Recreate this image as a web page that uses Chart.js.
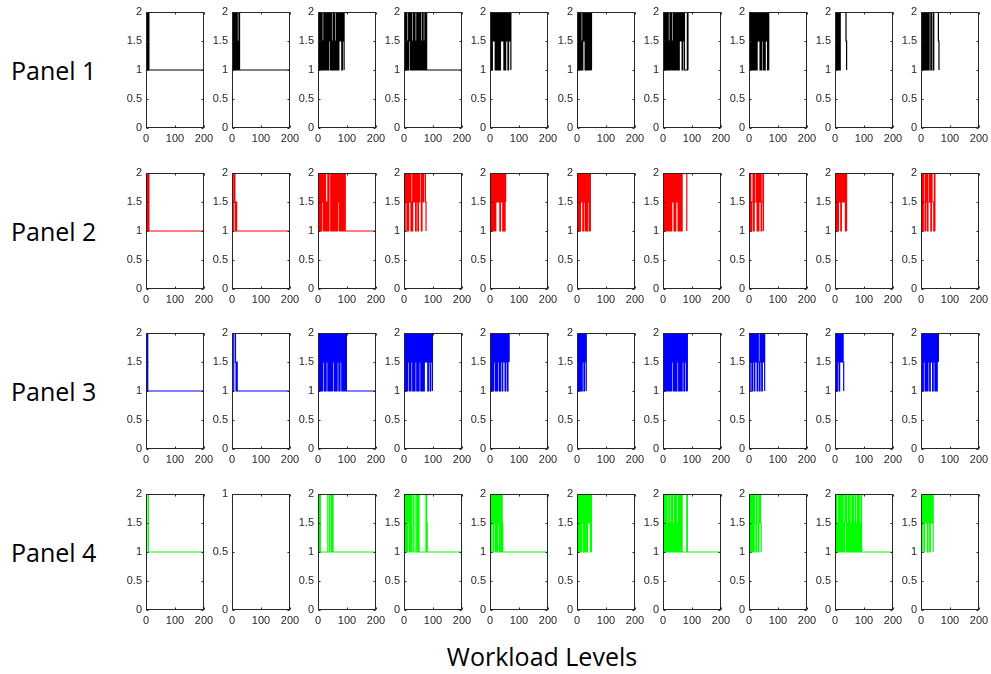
<!DOCTYPE html>
<html><head><meta charset="utf-8">
<script src="https://cdn.jsdelivr.net/npm/chart.js@4.4.0/dist/chart.umd.min.js"></script>
<style>
html,body{margin:0;padding:0;background:#fff;width:991px;height:674px;overflow:hidden;position:relative;font-family:"Open Sans",sans-serif}
canvas{position:absolute}
.rowlab{position:absolute;left:11px;font-size:25px;line-height:25px;color:#000;white-space:nowrap}
#title{position:absolute;left:342px;width:400px;text-align:center;top:644px;font-size:25px;line-height:25px;color:#000}
</style></head><body>
<div id="title">Workload Levels</div>
<script>
// ---- data ----
const rowLabels = ["Panel 1", "Panel 2", "Panel 3", "Panel 4"];
const xMin = 0, xMax = 200, xTickStep = 100;
const yTickStep = 0.5;
const sampleStep = 2;            // x spacing between successive readings
const levelCode = { "1": 1, "5": 1.5, "2": 2 };

const panel1Levels = [
  "212121",
  "21212121215121",
  "2121212151212121212521215121215121212525212521",
  "2121215125212151212151212121215121512121",
  "2121252521212121215252521215252152521",
  "21212121512525121521212121",
  "21212121215121215121212121212525212521111121",
  "21212121212121225221212521215252121",
  "212121221222222222251",
  "21212121221221222122212222222251"
];
const panel2Levels = [
  "212121",
  "111225151",
  "212121252121211512122212121221212125215212122121",
  "212521215252151225251252125222125522251",
  "2121212121252525215252152125",
  "212121252512521251252121",
  "212121212121521525212152521521521222222221",
  "21251552125552121255215521",
  "212121255212525252121",
  "2121255125215525212555121"
];
const panel3Levels = [
  "2121",
  "1112225151",
  "21212121252121252121121212521212125211252122122121",
  "21212125212125211212521211252121211252522125212521",
  "2121212521121252112521255212521225",
  "21212152125212521",
  "2121212112121212521211212521121212521252121",
  "2125212521252512551252122521",
  "2121252125255251",
  "2121252121212521252512521251225"
];
const panel4Levels = [
  "12221",
  "",
  "112211111111111112221112121",
  "21212125212121112221112212111111111111251",
  "21252125212212521221251",
  "21212121252121212125252121",
  "2121212151215121215121215121212121111111121",
  "2121212512551255125251",
  "21215121221212151252151212151212151215121215121",
  "2125212525212521252521"
];
// does the series continue flat at level 1 up to x = 200?
const panel1Tail = [1,1,0,1,0,0,0,0,0,0];
const panel2Tail = [1,1,1,0,0,0,0,0,0,0];
const panel3Tail = [1,1,1,0,0,0,0,0,0,0];
const panel4Tail = [1,0,1,1,1,0,1,0,1,0];
const panel1YMax = [2,2,2,2,2,2,2,2,2,2];
const panel2YMax = [2,2,2,2,2,2,2,2,2,2];
const panel3YMax = [2,2,2,2,2,2,2,2,2,2];
const panel4YMax = [2,1,2,2,2,2,2,2,2,2];

// ---- style / layout ----
const rowColors = ["#000000", "#ff0000", "#0000ff", "#00ff00"];
const axisColor = "#262626";
const boxLeft0 = 146, colPitch = 86.1, boxTop0 = 12, rowPitch = 160.6;
const boxW = 58, boxH = 116;
const padL = 32, padR = 12, padT = 6, padB = 18;

const rows = [
  { levels: panel1Levels, tail: panel1Tail, ymax: panel1YMax },
  { levels: panel2Levels, tail: panel2Tail, ymax: panel2YMax },
  { levels: panel3Levels, tail: panel3Tail, ymax: panel3YMax },
  { levels: panel4Levels, tail: panel4Tail, ymax: panel4YMax }
];

const boxPlugin = {
  id: "matlabBox",
  afterDatasetsDraw(chart) {
    const { ctx, chartArea: a, scales } = chart;
    ctx.save();
    ctx.strokeStyle = axisColor;
    ctx.lineWidth = 1;
    const L = Math.round(a.left) + 0.5, R = Math.round(a.right) - 0.5;
    const T = Math.round(a.top) + 0.5, B = Math.round(a.bottom) - 0.5;
    ctx.strokeRect(L, T, R - L, B - T);
    const tl = 2;
    ctx.beginPath();
    scales.x.ticks.forEach(t => {
      const px = Math.round(scales.x.getPixelForValue(t.value)) + 0.5;
      ctx.moveTo(px, B); ctx.lineTo(px, B - tl);
      ctx.moveTo(px, T); ctx.lineTo(px, T + tl);
    });
    scales.y.ticks.forEach(t => {
      const py = Math.round(scales.y.getPixelForValue(t.value)) + 0.5;
      ctx.moveTo(L, py); ctx.lineTo(L + tl, py);
      ctx.moveTo(R, py); ctx.lineTo(R - tl, py);
    });
    ctx.stroke();
    ctx.restore();
  }
};

const tickFont = { family: "'Liberation Sans', Arial, sans-serif", size: 11 };

rows.forEach((row, r) => {
  const lab = document.createElement("div");
  lab.className = "rowlab";
  lab.textContent = rowLabels[r];
  lab.style.top = Math.round(boxTop0 + r * rowPitch + 46) + "px";
  document.body.appendChild(lab);

  row.levels.forEach((str, c) => {
    const pts = [];
    for (let i = 0; i < str.length; i++) pts.push({ x: i * sampleStep, y: levelCode[str[i]] });
    if (row.tail[c] && pts.length) pts.push({ x: xMax, y: 1 });

    const cv = document.createElement("canvas");
    cv.width = padL + boxW + padR;
    cv.height = padT + boxH + padB;
    cv.style.left = Math.round(boxLeft0 + c * colPitch - padL) + "px";
    cv.style.top = Math.round(boxTop0 + r * rowPitch - padT) + "px";
    document.body.appendChild(cv);

    new Chart(cv, {
      type: "line",
      data: { datasets: [{
        data: pts, borderColor: rowColors[r], borderWidth: 1.2,
        pointRadius: 0, stepped: "before", fill: false, tension: 0
      }] },
      options: {
        animation: false, responsive: false, devicePixelRatio: 1, events: [],
        parsing: false,
        layout: { padding: { top: padT, right: padR, left: 0, bottom: 0 } },
        plugins: { legend: { display: false }, tooltip: { enabled: false } },
        scales: {
          x: {
            type: "linear", min: xMin, max: xMax,
            grid: { display: false, drawTicks: false }, border: { display: false },
            ticks: { stepSize: xTickStep, font: tickFont, color: axisColor, padding: 4, maxRotation: 0, autoSkip: false },
            afterFit(s) { s.height = padB; s.paddingLeft = 0; s.paddingRight = 0; }
          },
          y: {
            min: 0, max: row.ymax[c],
            grid: { display: false, drawTicks: false }, border: { display: false },
            ticks: { stepSize: yTickStep, font: tickFont, color: axisColor, padding: 4,
                     callback: v => String(v) },
            afterFit(s) { s.width = padL; s.paddingTop = 0; s.paddingBottom = 0; }
          }
        }
      },
      plugins: [boxPlugin]
    });
  });
});
</script>
</body></html>
